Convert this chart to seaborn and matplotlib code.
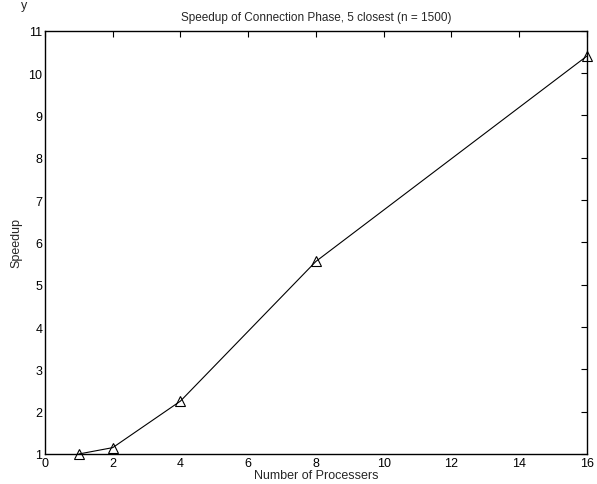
import matplotlib
matplotlib.use("Agg")
import matplotlib.pyplot as plt
import seaborn as sns
import pandas as pd

processors = [1, 2, 4, 8, 16]
speedup = [1.0, 1.15, 2.25, 5.55, 10.4]
x_ticks = [0, 2, 4, 6, 8, 10, 12, 14, 16]
y_ticks = [1, 2, 3, 4, 5, 6, 7, 8, 9, 10, 11]

sns.set_style("white")
plt.rcParams['font.family'] = ['Liberation Sans', 'DejaVu Sans']
plt.rcParams['font.size'] = 9

df = pd.DataFrame({"Number of Processers": processors, "Speedup": speedup})

fig = plt.figure(figsize=(5.97, 4.85), dpi=100)
ax = fig.add_axes([0.0754, 0.0619, 0.9076, 0.8727])
sns.lineplot(data=df, x="Number of Processers", y="Speedup", ax=ax,
             color="black", linewidth=0.8, marker="^", markersize=6.5,
             markerfacecolor="none", markeredgecolor="black", markeredgewidth=0.8)
for ln in ax.lines:
    ln.set_clip_on(False)

ax.set_xlim(0, 16)
ax.set_ylim(1, 11)
ax.set_xticks(x_ticks)
ax.set_yticks(y_ticks)
ax.tick_params(direction="in", top=True, right=True, length=4, width=0.8,
               labelsize=9, colors="black", pad=2)
for s in ax.spines.values():
    s.set_color("black")
    s.set_linewidth(1.0)
ax.set_title("Speedup of Connection Phase, 5 closest (n = 1500)", fontsize=8.5, pad=8)
ax.set_xlabel("Number of Processers", fontsize=9, labelpad=0)
ax.set_ylabel("Speedup", fontsize=9, labelpad=4)
fig.text(0.035, 1.0, "y", fontsize=9, va="top")

fig.savefig("out.png", dpi=100)
